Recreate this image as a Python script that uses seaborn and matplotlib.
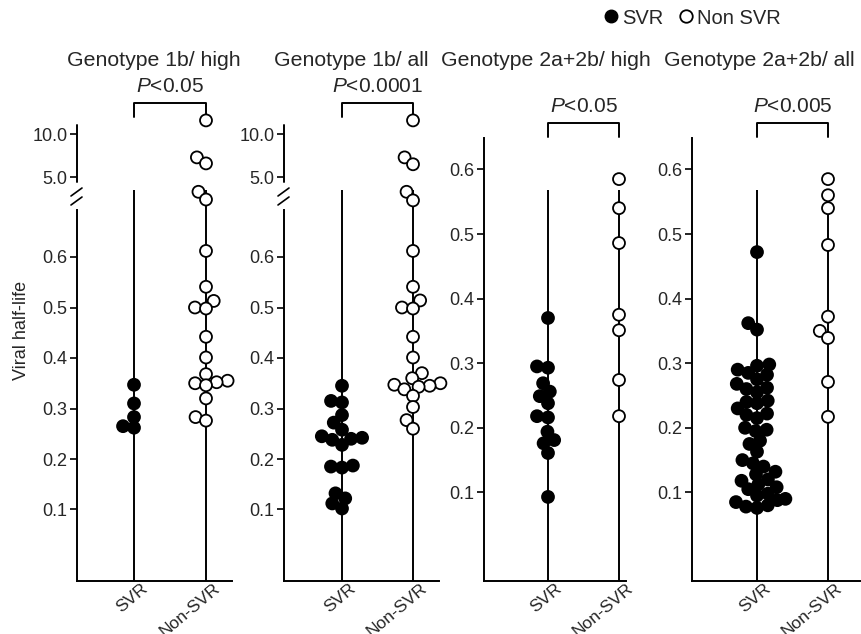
import numpy as np
import pandas as pd
import seaborn as sns
import matplotlib.pyplot as plt
from matplotlib.lines import Line2D
from matplotlib.transforms import blended_transform_factory, ScaledTranslation

sns.set_theme(style="white")
plt.rcParams["font.family"] = ["Liberation Sans", "DejaVu Sans"]
plt.rcParams["mathtext.fontset"] = "custom"
plt.rcParams["mathtext.it"] = "Liberation Sans:italic"
plt.rcParams["mathtext.rm"] = "Liberation Sans"

groups = ["SVR", "Non-SVR"]
titles = ["Genotype 1b/ high", "Genotype 1b/ all",
          "Genotype 2a+2b/ high", "Genotype 2a+2b/ all"]
pvals = ["0.05", "0.0001", "0.05", "0.005"]

# viral half-life values
g1b_high_svr = [0.347, 0.310, 0.283, 0.265, 0.262]
g1b_high_non = [11.6, 7.3, 6.6, 3.3, 2.4, 0.612, 0.541, 0.513, 0.500, 0.498,
                0.442, 0.401, 0.368, 0.355, 0.352, 0.350, 0.346, 0.320, 0.283, 0.276]
g1b_all_svr = [0.345, 0.315, 0.312, 0.287, 0.272, 0.258, 0.245, 0.242, 0.240,
               0.238, 0.228, 0.187, 0.185, 0.183, 0.132, 0.122, 0.112, 0.102]
g1b_all_non = [11.6, 7.3, 6.5, 3.3, 2.3, 0.612, 0.541, 0.514, 0.500, 0.498,
               0.442, 0.401, 0.370, 0.360, 0.350, 0.347, 0.345, 0.343, 0.338,
               0.325, 0.303, 0.277, 0.260]
g2_high_svr = [0.370, 0.295, 0.293, 0.269, 0.256, 0.249, 0.238, 0.218, 0.216,
               0.194, 0.181, 0.176, 0.161, 0.093]
g2_high_non = [0.585, 0.540, 0.486, 0.375, 0.351, 0.274, 0.218]
g2_all_svr = [0.472, 0.362, 0.352, 0.298, 0.296, 0.290, 0.285, 0.282, 0.275,
              0.268, 0.262, 0.260, 0.255, 0.242, 0.240, 0.238, 0.230, 0.222,
              0.220, 0.215, 0.200, 0.197, 0.195, 0.180, 0.175, 0.163, 0.150,
              0.145, 0.140, 0.132, 0.128, 0.120, 0.118, 0.112, 0.108, 0.105,
              0.098, 0.095, 0.090, 0.088, 0.085, 0.080, 0.078, 0.076]
g2_all_non = [0.585, 0.560, 0.540, 0.483, 0.372, 0.350, 0.339, 0.271, 0.217]

panels = [(g1b_high_svr, g1b_high_non), (g1b_all_svr, g1b_all_non),
          (g2_high_svr, g2_high_non), (g2_all_svr, g2_all_non)]

W, H = 862, 634
fig = plt.figure(figsize=(W / 100, H / 100), dpi=100)

def fx(x):
    return x / W

def fy(y):
    return 1 - y / H

# broken y scale for the genotype 1b panels
brk_v = [-1.0, 0.7, 2.0, 100.0]
brk_c = [-1.0, 0.7, 0.707, 0.758 + 95 * 0.01703]

def fwd(v):
    return np.interp(v, brk_v, brk_c)

def inv(c):
    return np.interp(c, brk_c, brk_v)

# (left, top, right, bottom) in pixels, svr x, non-svr x, title start
boxes = [(77, 115, 232, 581, 134, 206, 67), (284, 115, 439, 581, 342, 413, 274),
         (484, 138, 626, 581, 548, 619, 441), (692, 138, 860, 581, 757, 828, 664)]

axes = []
for i, ((svr, non), (x0, yt, x1, yb, xs, xn, tx)) in enumerate(zip(panels, boxes)):
    ax = fig.add_axes([fx(x0), fy(yb), fx(x1 - x0), (yb - yt) / H])
    axes.append(ax)
    broken = i < 2
    if broken:
        ax.set_yscale("function", functions=(fwd, inv))
        zero, scale = 560, 505
    else:
        zero, scale = 557, 646
    df = pd.DataFrame({"group": ["SVR"] * len(svr) + ["Non-SVR"] * len(non),
                       "value": svr + non})
    # swarm is laid out with a small marker so the dots may overlap like the original
    sns.swarmplot(data=df, x="group", y="value", hue="group", order=groups,
                  palette={"SVR": "black", "Non-SVR": "white"},
                  edgecolor="black", linewidth=1.3, size=6.3, legend=False,
                  ax=ax, clip_on=False, warn_thresh=1)
    sp = xn - xs
    ax.set_xlim((x0 - xs) / sp, (x1 - xs) / sp)
    c_bot = (zero - yb) / scale
    c_top = (zero - yt) / scale
    c_line = (zero - 190) / scale
    if broken:
        ax.set_ylim(inv(c_bot), inv(c_top))
        ymax_line = inv(c_line)
    else:
        ax.set_ylim(c_bot, c_top)
        ymax_line = c_line
    ax.vlines([0, 1], ax.get_ylim()[0], ymax_line, color="black", lw=1.4, zorder=2)

    ax.spines[["top", "right"]].set_visible(False)
    for s in ["left", "bottom"]:
        ax.spines[s].set_color("black")
        ax.spines[s].set_linewidth(1.4)
    ticks = [0.1, 0.2, 0.3, 0.4, 0.5, 0.6]
    labels = [f"{t:.1f}" for t in ticks]
    if broken:
        ticks += [5.0, 10.0]
        labels += ["5.0", "10.0"]
        ax.spines["left"].set_bounds(ax.get_ylim()[0], inv((zero - 210) / scale))
        ax.plot([0, 0], [inv((zero - 182) / scale), inv((zero - 125) / scale)],
                transform=ax.get_yaxis_transform(), color="black", lw=1.4,
                clip_on=False)
        for dy in (0, 9):
            fig.add_artist(Line2D([fx(x0 - 6), fx(x0 + 5)],
                                  [fy(196 + dy), fy(188 + dy)],
                                  transform=fig.transFigure, color="black", lw=1.2))
    ax.set_yticks(ticks)
    ax.set_yticklabels(labels, fontsize=13)
    ax.tick_params(axis="y", direction="out", length=5, width=1.2, color="black",
                   left=True, pad=2)
    ax.tick_params(axis="x", length=0, pad=0)
    ax.set_xticks([0, 1])
    ax.set_xticklabels(groups, rotation=40, ha="right", rotation_mode="anchor",
                       fontsize=12.5)
    for lab in ax.get_xticklabels():
        lab.set_transform(lab.get_transform() +
                          ScaledTranslation(5 / 72, 0, fig.dpi_scale_trans))
    ax.set_xlabel("")
    ax.set_ylabel("")

    # significance bracket
    tr = blended_transform_factory(ax.transData, fig.transFigure)
    by = 103 if broken else 123
    ax.plot([0, 0, 1, 1], [fy(by + 14), fy(by), fy(by), fy(by + 14)],
            transform=tr, color="black", lw=1.4, clip_on=False)
    ax.text(0.5, fy(by - 16), r"$\mathit{P}$<" + pvals[i], transform=tr,
            ha="center", va="center", fontsize=15)

    fig.text(fx(tx), fy(60), titles[i], ha="left", va="center", fontsize=15.3)

# run the swarm layout once, then freeze it and draw the markers full size
fig.canvas.draw()
for ax in axes:
    for coll in ax.collections:
        if "draw" in coll.__dict__:
            del coll.draw
            coll.set_sizes([8.6 ** 2])

fig.text(fx(22), fy(330), "Viral half-life", rotation=90, ha="center",
         va="center", fontsize=13)

handles = [Line2D([], [], marker="o", ls="", mfc="black", mec="black", ms=9,
                  label="SVR"),
           Line2D([], [], marker="o", ls="", mfc="white", mec="black", mew=1.3,
                  ms=9, label="Non SVR")]
fig.legend(handles=handles, ncol=2, loc="center",
           bbox_to_anchor=(fx(691), fy(18)), frameon=False, fontsize=14.5,
           handletextpad=0.05, columnspacing=0.6, handlelength=1.0)

fig.savefig("out.png", dpi=100)
